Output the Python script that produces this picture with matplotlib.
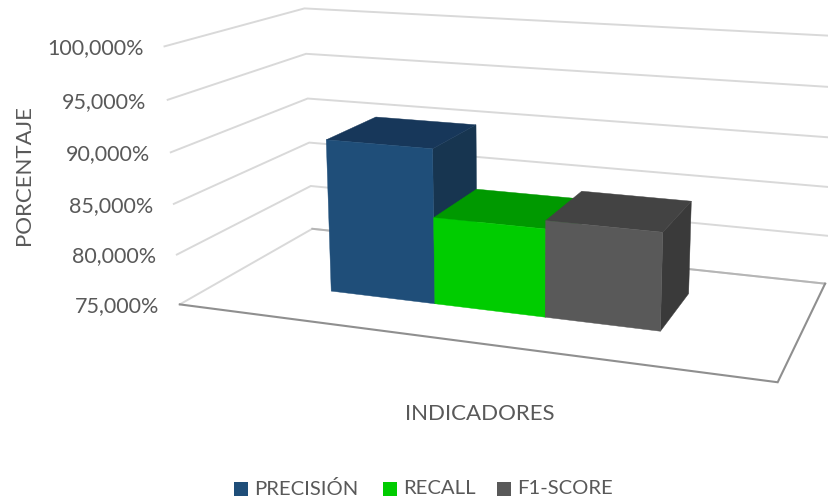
import numpy as np
import matplotlib
matplotlib.use('Agg')
import matplotlib.pyplot as plt
from matplotlib.patches import Polygon, Rectangle

plt.rcParams['font.family'] = ['Lato', 'DejaVu Sans']

# data
series = ['PRECISIÓN', 'RECALL', 'F1-SCORE']
values = [90.3, 83.6, 84.4]
ticks = [75, 80, 85, 90, 95, 100]
tick_labels = ['75,000%', '80,000%', '85,000%', '90,000%', '95,000%', '100,000%']
front_colors = ['#1F4E79', '#00CC00', '#595959']
top_colors = ['#17375A', '#009900', '#434343']
side_colors = ['#173550', '#007A00', '#3A3A3A']

ZMIN, ZMAX = 75, 100
GREY = '#595959'

# box corners (x, depth, z 0-1) -> where they land on the picture
box = [(0, 0, 0), (1, 0, 0), (1, 1, 0), (0, 1, 0), (0, 0, 1), (0, 1, 1), (1, 1, 1)]
screen = [(180, 304), (778, 382), (825, 284), (312, 229), (164, 47), (305, 8), (838, 36)]

# camera matrix fitted on those corners
A, b = [], []
for (X, Y, Z), (u, v) in zip(box, screen):
    A.append([X, Y, Z, 1, 0, 0, 0, 0, -u*X, -u*Y, -u*Z])
    A.append([0, 0, 0, 0, X, Y, Z, 1, -v*X, -v*Y, -v*Z])
    b += [u, v]
P = np.append(np.linalg.lstsq(np.array(A, float), np.array(b, float), rcond=None)[0], 1).reshape(3, 4)


def project(x, d, val):
    z = (val - ZMIN) / (ZMAX - ZMIN)
    p = P @ np.array([x, d, z, 1.0])
    return p[0] / p[2], p[1] / p[2]


fig = plt.figure(figsize=(8.29, 5.01), dpi=100)
ax = fig.add_axes([0, 0, 1, 1])
ax.set_xlim(0, 829)
ax.set_ylim(501, 0)
ax.axis('off')

# gridlines on walls
for t, lab in zip(ticks, tick_labels):
    pts = [project(0, 0, t), project(0, 1, t), project(1, 1, t)]
    ax.plot(*zip(*pts), color='#D9D9D9', lw=1.4, zorder=1, solid_joinstyle='miter')
    ax.text(pts[0][0] - 21, pts[0][1] + 2, lab, ha='right', va='center', fontsize=15.5, color=GREY)

# floor
back = [project(0, 1, ZMIN), project(1, 1, ZMIN)]
ax.plot(*zip(*back), color='#B5B5B5', lw=1.4, zorder=1.5)
floor = [project(0, 0, ZMIN), project(1, 0, ZMIN), project(1, 1, ZMIN)]
ax.plot(*zip(*floor), color='#8F8F8F', lw=1.5, zorder=2, solid_joinstyle='miter')

# bars
x_edges = [0.207, 0.4, 0.595, 0.788]
d0, d1 = 0.31, 0.72
for i, v in enumerate(values):
    x0, x1 = x_edges[i], x_edges[i + 1]
    top = [project(x0, d0, v), project(x1, d0, v), project(x1, d1, v), project(x0, d1, v)]
    front = [project(x0, d0, ZMIN), project(x1, d0, ZMIN), project(x1, d0, v), project(x0, d0, v)]
    side = [project(x1, d0, ZMIN), project(x1, d1, ZMIN), project(x1, d1, v), project(x1, d0, v)]
    z = 3 + i
    ax.add_patch(Polygon(side, fc=side_colors[i], ec=side_colors[i], lw=0.3, zorder=z))
    ax.add_patch(Polygon(top, fc=top_colors[i], ec=top_colors[i], lw=0.3, zorder=z))
    ax.add_patch(Polygon(front, fc=front_colors[i], ec=front_colors[i], lw=0.3, zorder=z))

ax.text(24, 175, 'PORCENTAJE', rotation=90, ha='center', va='center', fontsize=16, color=GREY)
ax.text(480, 414, 'INDICADORES', ha='center', va='center', fontsize=16, color=GREY)

# legend
leg_x = [234, 383, 497]
for name, c, lx in zip(series, front_colors, leg_x):
    ax.add_patch(Rectangle((lx, 482), 14, 14, fc=c, ec='none'))
    ax.text(lx + 20, 489, name, ha='left', va='center', fontsize=14.6, color=GREY)

fig.savefig('out.png', dpi=100)
